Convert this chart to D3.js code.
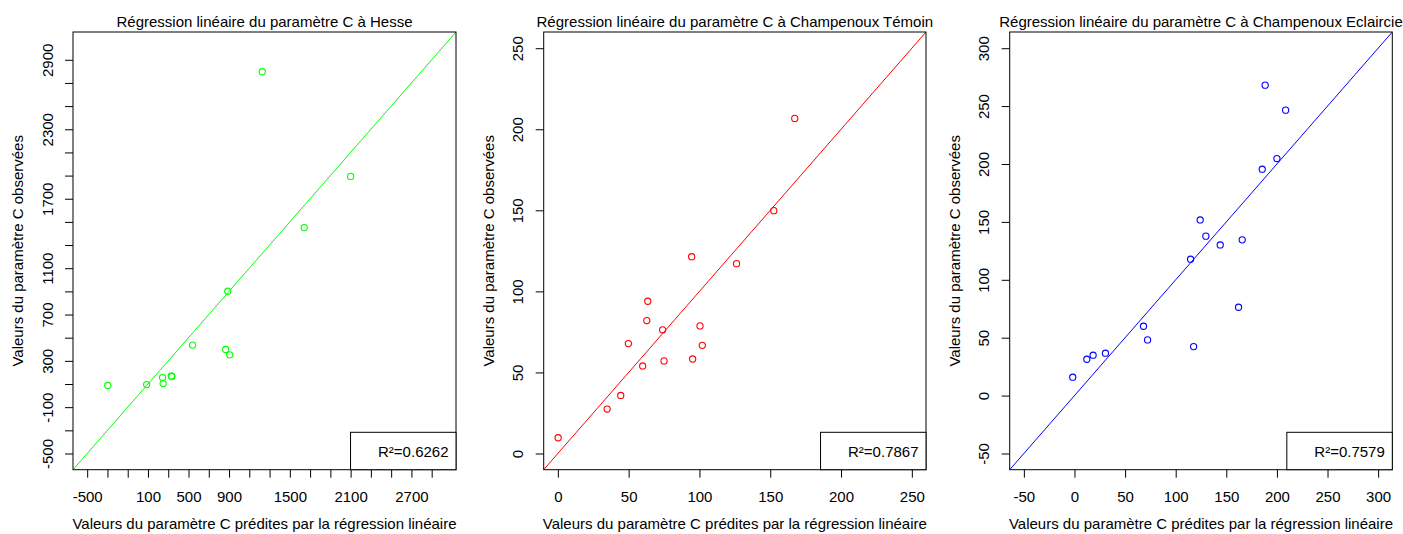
<!DOCTYPE html>
<html><head><meta charset="utf-8">
<script src="https://cdn.jsdelivr.net/npm/d3@7"></script>
<style>
body{margin:0;background:#fff;}
svg{display:block;font-family:"Liberation Sans",Arial,sans-serif;}
</style></head>
<body>
<svg id="c" width="1403" height="534"></svg>
<script>
// ---- Data ----
const titles = [
  "Régression linéaire du paramètre C à Hesse",
  "Régression linéaire du paramètre C à Champenoux Témoin",
  "Régression linéaire du paramètre C à Champenoux Eclaircie"
];
const r2Labels = ["R²=0.6262", "R²=0.7867", "R²=0.7579"];
const seriesColors = ["#00ff00", "#ff0000", "#0000ff"];

const hessePredicted = [1228, 2100, 1642, 887, 540, 867, 907, 244, 330, 336, 250, 87, -297];
const hesseObserved  = [2797, 1893, 1451, 901, 436, 398, 352, 156, 170, 164, 104, 95, 87];

const temoinPredicted = [167.3, 152.5, 94.5, 126.2, 63.5, 62.8, 74.0, 100.4, 49.8, 102.0, 59.9, 75.0, 95.2, 44.4, 34.8, 0.2];
const temoinObserved  = [206.7, 149.8, 121.4, 117.1, 93.9, 82.0, 76.3, 78.7, 67.8, 66.7, 54.0, 57.1, 58.3, 35.8, 27.4, 9.7];

const eclairPredicted = [188.4, 208.6, 200.0, 185.5, 124.2, 129.8, 144.0, 165.7, 114.7, 162.1, 68.2, 72.2, 117.7, 30.6, 18.4, 12.2, -1.7];
const eclairObserved  = [268.1, 246.5, 204.7, 195.5, 151.7, 137.7, 130.1, 134.5, 117.8, 76.3, 59.9, 48.1, 42.3, 36.6, 34.9, 31.4, 15.9];

const hesseLimits  = [-500, 3000];
const temoinLimits = [0, 250];
const eclairLimits = [-50, 300];

const hesseTicks   = [-500, -300, -100, 100, 300, 500, 700, 900, 1100, 1300, 1500, 1700, 1900, 2100, 2300, 2500, 2700, 2900];
const hesseXLabels = [-500, 100, 500, 900, 1500, 2100, 2700];
const hesseYLabels = [-500, -100, 300, 700, 1100, 1700, 2300, 2900];
const temoinTicks  = [0, 50, 100, 150, 200, 250];
const eclairTicks  = [-50, 0, 50, 100, 150, 200, 250, 300];

const xTitle = "Valeurs du paramètre C prédites par la régression linéaire";
const yTitle = "Valeurs du paramètre C observées";

// ---- Layout ----
const panels = [
  {left:73,    right:456,    pred:hessePredicted,  obs:hesseObserved,  lim:hesseLimits,  ticks:hesseTicks,  xl:hesseXLabels, yl:hesseYLabels},
  {left:543.7, right:926,    pred:temoinPredicted, obs:temoinObserved, lim:temoinLimits, ticks:temoinTicks, xl:temoinTicks,  yl:temoinTicks},
  {left:1009.7,right:1392.3, pred:eclairPredicted, obs:eclairObserved, lim:eclairLimits, ticks:eclairTicks, xl:eclairTicks,  yl:eclairTicks}
];
const plotTop = 32, plotBottom = 469.7;
const fs = 15, tickLen = 8;

const svg = d3.select("#c");

panels.forEach((p, i) => {
  const ext = (p.lim[1] - p.lim[0]) * 0.04;
  const dom = [p.lim[0] - ext, p.lim[1] + ext];
  const x = d3.scaleLinear().domain(dom).range([p.left, p.right]);
  const y = d3.scaleLinear().domain(dom).range([plotBottom, plotTop]);
  const g = svg.append("g");
  const col = seriesColors[i];

  const clipId = "clip" + i;
  svg.append("clipPath").attr("id", clipId).append("rect")
    .attr("x", p.left).attr("y", plotTop).attr("width", p.right - p.left).attr("height", plotBottom - plotTop);

  // x axis
  const xAxis = d3.axisBottom(x).tickValues(p.ticks).tickSize(tickLen).tickPadding(14)
    .tickFormat(d => p.xl.includes(d) ? d : "");
  const gx = g.append("g").attr("transform", `translate(0,${plotBottom})`).call(xAxis);
  gx.select(".domain").remove();
  gx.selectAll("line").attr("stroke", "#000");
  gx.selectAll("text").attr("font-size", fs).attr("fill", "#000").attr("font-family", "Liberation Sans, Arial, sans-serif");

  // y axis
  const yAxis = d3.axisLeft(y).tickValues(p.ticks).tickSize(tickLen).tickPadding(0)
    .tickFormat(d => p.yl.includes(d) ? d : "");
  const gy = g.append("g").attr("transform", `translate(${p.left},0)`).call(yAxis);
  gy.select(".domain").remove();
  gy.selectAll("line").attr("stroke", "#000");
  gy.selectAll("text").attr("font-size", fs).attr("fill", "#000")
    .attr("font-family", "Liberation Sans, Arial, sans-serif")
    .attr("x", null).attr("dy", null)
    .attr("text-anchor", "middle")
    .attr("transform", "translate(-20.5,0) rotate(-90)");

  // regression line y = x
  g.append("line").attr("clip-path", `url(#${clipId})`)
    .attr("x1", x(dom[0])).attr("y1", y(dom[0]))
    .attr("x2", x(dom[1])).attr("y2", y(dom[1]))
    .attr("stroke", col).attr("stroke-width", 1);

  // points
  g.selectAll("circle.pt").data(p.pred.map((v, k) => [v, p.obs[k]])).join("circle")
    .attr("class", "pt")
    .attr("cx", d => x(d[0])).attr("cy", d => y(d[1])).attr("r", 3.1)
    .attr("fill", "none").attr("stroke", col).attr("stroke-width", 1.1);

  // frame
  g.append("rect").attr("x", p.left).attr("y", plotTop)
    .attr("width", p.right - p.left).attr("height", plotBottom - plotTop)
    .attr("fill", "none").attr("stroke", "#000").attr("stroke-width", 1);

  // legend box
  const lt = g.append("text").attr("x", p.right - 7.5).attr("y", plotBottom - 13)
    .attr("text-anchor", "end").attr("font-size", fs).text(r2Labels[i]);
  const bb = lt.node().getBBox();
  const lx = bb.x - 27.5;
  g.insert("rect", () => lt.node()).attr("x", lx).attr("y", 432.3)
    .attr("width", p.right - lx).attr("height", plotBottom - 432.3)
    .attr("fill", "#fff").attr("stroke", "#000").attr("stroke-width", 1);

  // titles
  const cx = (p.left + p.right) / 2;
  g.append("text").attr("x", cx).attr("y", 26.5).attr("text-anchor", "middle")
    .attr("font-size", fs).text(titles[i]);
  g.append("text").attr("x", cx).attr("y", 529).attr("text-anchor", "middle")
    .attr("font-size", fs).text(xTitle);
  g.append("text").attr("transform", `translate(${p.left - 50},${(plotTop + plotBottom) / 2}) rotate(-90)`)
    .attr("text-anchor", "middle").attr("font-size", fs).text(yTitle);
});
</script>
</body></html>
